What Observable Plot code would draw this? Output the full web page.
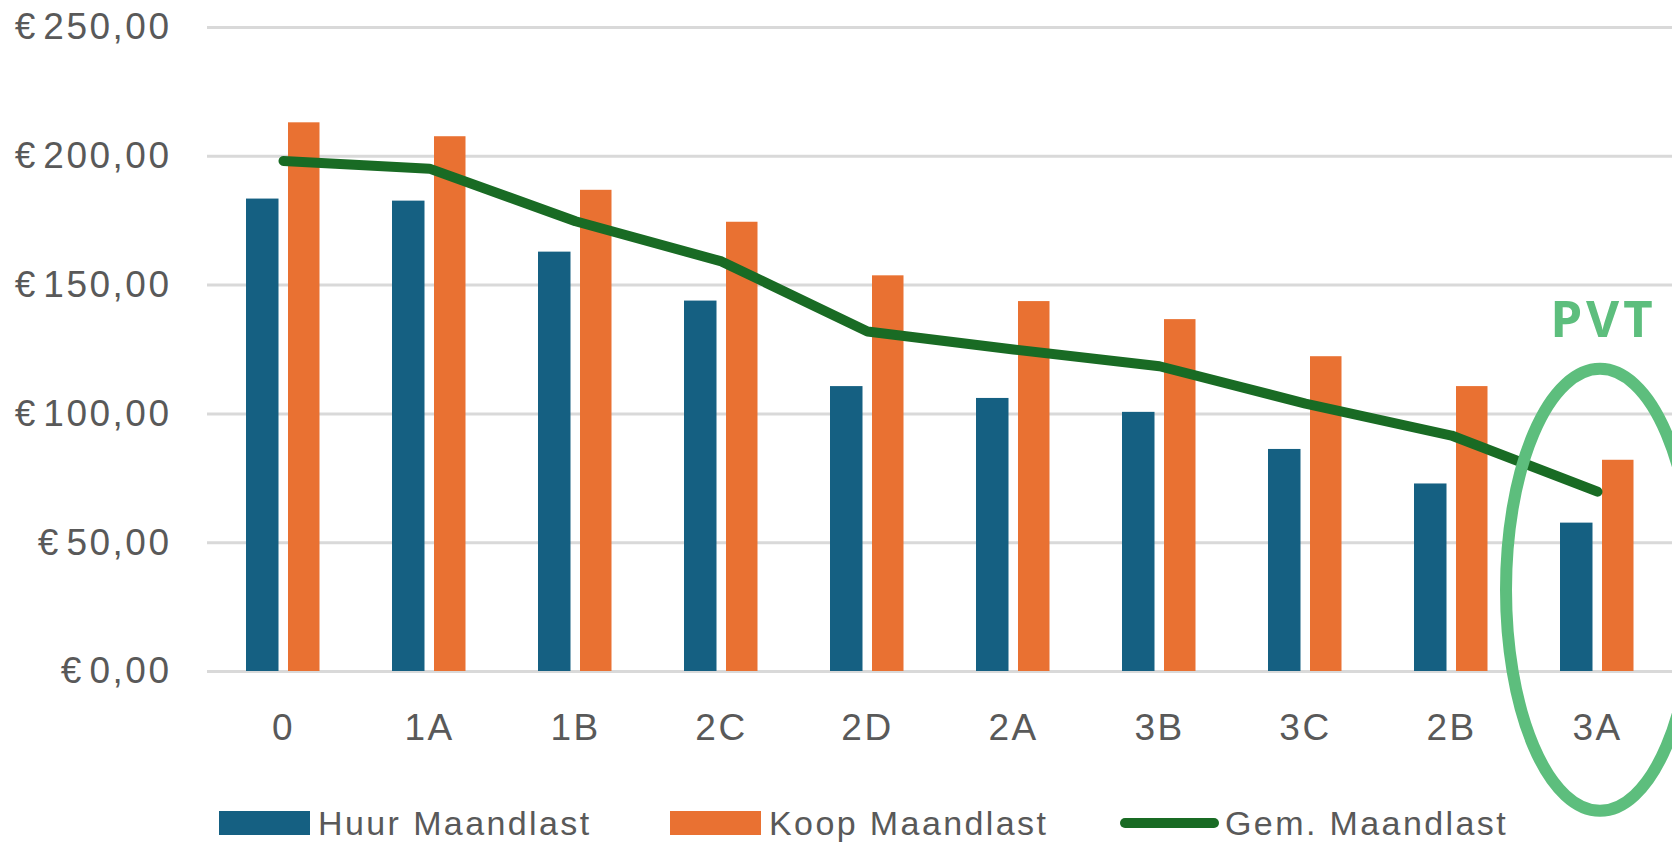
<!DOCTYPE html>
<html>
<head>
<meta charset="utf-8">
<script src="https://cdn.jsdelivr.net/npm/d3@7"></script>
<script src="https://cdn.jsdelivr.net/npm/@observablehq/plot@0.6"></script>
<style>
  html, body { margin: 0; padding: 0; background: #fff; }
  #wrap { width: 1672px; height: 845px; position: relative; overflow: hidden; }
  #chart svg { display: block; overflow: visible; }
  g[aria-label$="tick label"] text { letter-spacing: 2.5px; }
  #legend { position: relative; width: 1672px; height: 65px; font-family: "Liberation Sans", Arial, sans-serif; font-size: 34px; color: #595959; letter-spacing: 2.4px; }
  .item { position: absolute; top: 31px; height: 24px; display: flex; align-items: center; white-space: nowrap; }
  .sw { width: 91px; height: 24px; margin-right: 8px; }
  .ln { width: 99px; height: 10px; border-radius: 5px; margin-right: 6px; }
</style>
</head>
<body>
<div id="wrap">
  <div id="chart"></div>
  <div id="legend"></div>
</div>
<script>
// ---- data ----
const categories = ["0", "1A", "1B", "2C", "2D", "2A", "3B", "3C", "2B", "3A"];
const huurMaandlast = [183.4, 182.6, 162.8, 143.8, 110.6, 106.0, 100.6, 86.2, 72.8, 57.6];
const koopMaandlast = [213.0, 207.6, 186.8, 174.4, 153.6, 143.6, 136.6, 122.2, 110.6, 82.0];
const gemMaandlast  = [198.2, 195.2, 174.8, 159.2, 132.0, 125.0, 118.5, 104.0, 91.6, 69.8];
const yTicks = [0, 50, 100, 150, 200, 250];
const seriesNames = ["Huur Maandlast", "Koop Maandlast", "Gem. Maandlast"];
const annotationCategory = "3A";
const annotationLabel = "PVT";
const annotationLabelValue = 136;
const annotationCenterValue = 31.5;

const BLUE = "#156082", ORANGE = "#E97132", GREEN = "#196B24", LIGHTGREEN = "#5DBE7D";

const data = categories.map((c, i) => ({cat: c, huur: huurMaandlast[i], koop: koopMaandlast[i], gem: gemMaandlast[i]}));
const fmt = v => "€\u200A" + v.toFixed(2).replace(".", ",");

const plot = Plot.plot({
  width: 1672,
  height: 780,
  marginLeft: 207,
  marginRight: 0,
  marginTop: 27,
  marginBottom: 109,
  style: {fontFamily: "'Liberation Sans', Arial, sans-serif", fontSize: "37px", color: "#595959", background: "white", overflow: "visible"},
  x: {domain: categories, padding: 0, label: null},
  y: {domain: [0, 250], label: null},
  marks: [
    Plot.gridY(yTicks, {stroke: "#D9D9D9", strokeOpacity: 1, strokeWidth: 3}),
    Plot.axisY(yTicks, {tickSize: 0, tickPadding: 36, tickFormat: fmt, fontSize: 37, label: null}),
    Plot.axisX({tickSize: 0, tickPadding: 42, fontSize: 37, label: null}),
    Plot.barY(data, {x: "cat", y: "huur", fill: BLUE, insetLeft: 36, insetRight: 77.5}),
    Plot.barY(data, {x: "cat", y: "koop", fill: ORANGE, insetLeft: 78, insetRight: 36.5}),
    Plot.lineY(data, {x: "cat", y: "gem", stroke: GREEN, strokeWidth: 10, strokeLinecap: "round", strokeLinejoin: "round"}),
    Plot.text([{cat: annotationCategory, v: annotationLabelValue, label: annotationLabel}], {
      x: "cat", y: "v", text: "label", fill: LIGHTGREEN, fontSize: 51, fontWeight: "bold",
      fontFamily: "'Noto Sans', sans-serif", dx: 6
    })
  ]
});
d3.select(plot).selectAll('g[aria-label="text"] text').style("letter-spacing", "4px");

// highlight ellipse placed through the plot's scales
const xs = plot.scale("x"), ys = plot.scale("y");
const cx = xs.apply(annotationCategory) + xs.bandwidth / 2;
const cy = ys.apply(annotationCenterValue);
d3.select(plot).append("ellipse")
  .attr("cx", cx + 3).attr("cy", cy)
  .attr("rx", 94).attr("ry", 221)
  .attr("fill", "none").attr("stroke", LIGHTGREEN).attr("stroke-width", 12);

document.getElementById("chart").appendChild(plot);

// legend
const legend = document.getElementById("legend");
const items = [
  {left: 219, kind: "sw", color: BLUE, name: seriesNames[0]},
  {left: 670, kind: "sw", color: ORANGE, name: seriesNames[1]},
  {left: 1120, kind: "ln", color: GREEN, name: seriesNames[2]}
];
for (const it of items) {
  const d = document.createElement("div");
  d.className = "item";
  d.style.left = it.left + "px";
  const s = document.createElement("div");
  s.className = it.kind;
  s.style.background = it.color;
  const t = document.createElement("span");
  t.textContent = it.name;
  d.appendChild(s); d.appendChild(t);
  legend.appendChild(d);
}
</script>
</body>
</html>
